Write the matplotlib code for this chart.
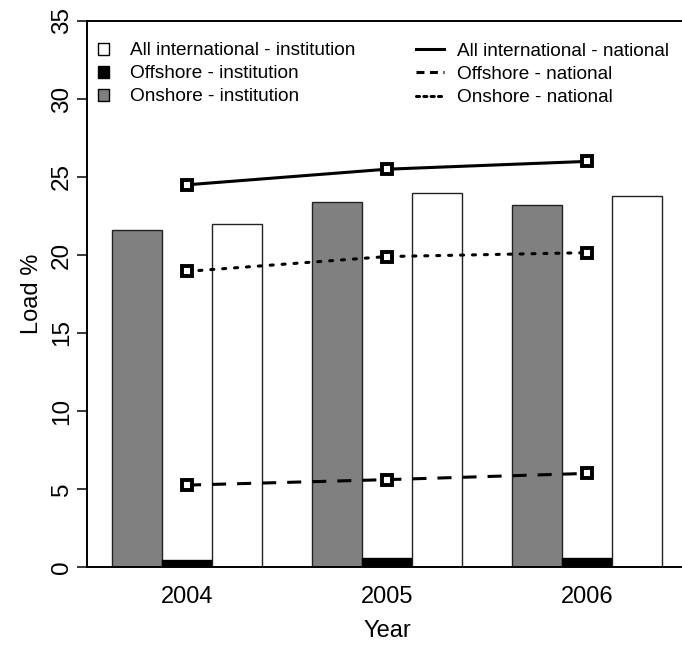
import matplotlib
matplotlib.use("Agg")
import matplotlib.pyplot as plt
from matplotlib.patches import Patch
from matplotlib.lines import Line2D
import numpy as np

plt.rcParams['font.family'] = ['Liberation Sans', 'DejaVu Sans']

years = [2004, 2005, 2006]
onshore_inst = [21.6, 23.4, 23.2]
offshore_inst = [0.45, 0.6, 0.6]
allintl_inst = [22.0, 24.0, 23.8]
allintl_nat = [24.5, 25.5, 26.0]
offshore_nat = [5.25, 5.6, 6.0]
onshore_nat = [18.95, 19.9, 20.15]

W, H = 682, 648
fig = plt.figure(figsize=(W / 100, H / 100), dpi=100)
ax = fig.add_axes([87 / W, (H - 567) / H, 600 / W, (567 - 21) / H])

x = np.array(years, dtype=float)
bw = 0.25
ax.bar(x - bw, onshore_inst, bw, color='#808080', edgecolor='#222222', linewidth=1.0, zorder=2)
ax.bar(x, offshore_inst, bw, color='black', edgecolor='black', linewidth=1.0, zorder=2)
ax.bar(x + bw, allintl_inst, bw, color='white', edgecolor='#222222', linewidth=1.0, zorder=2)

lw = 2.2
mk = dict(marker='s', ms=6.5, mfc='white', mec='black', mew=2.8)
ax.plot(x, allintl_nat, color='black', lw=lw, zorder=3, **mk)
ax.plot(x, offshore_nat, color='black', lw=lw, zorder=3, dashes=(4.6, 3.6), **mk)
ax.plot(x, onshore_nat, color='black', lw=lw, zorder=3, dashes=(1.0, 2.9),
        dash_capstyle='round', **mk)

ax.set_xlim(2003.5, 2006.5)
ax.set_ylim(0, 35)
ax.set_yticks(range(0, 36, 5))
ax.set_xticks(years)
ax.set_xticklabels([str(y) for y in years])
ax.tick_params(axis='x', length=0, pad=14, labelsize=17)
ax.tick_params(axis='y', length=7, width=1.1, pad=3, labelsize=17.5, direction='out')
for lab in ax.get_yticklabels():
    lab.set_rotation(90)
    lab.set_va('center')

for s in ['left', 'bottom', 'top']:
    ax.spines[s].set_linewidth(1.4)
ax.spines['right'].set_visible(False)

ax.set_xlabel('Year', fontsize=17, labelpad=8)
ax.set_ylabel('Load %', fontsize=17, labelpad=6)

h1 = [Patch(facecolor='white', edgecolor='black', linewidth=1.0),
      Patch(facecolor='black', edgecolor='black', linewidth=1.0),
      Patch(facecolor='#808080', edgecolor='black', linewidth=1.0)]
l1 = ['All international - institution', 'Offshore - institution', 'Onshore - institution']
h2 = [Line2D([], [], color='black', lw=lw),
      Line2D([], [], color='black', lw=lw, dashes=(2.6, 1.8)),
      Line2D([], [], color='black', lw=lw, dashes=(1.0, 1.4), dash_capstyle='round')]
l2 = ['All international - national', 'Offshore - national', 'Onshore - national']

leg1 = ax.legend(h1, l1, loc='upper left', bbox_to_anchor=(0.005, 0.975), frameon=False,
                 fontsize=13.7, handlelength=0.6, handleheight=0.6, handletextpad=1.1,
                 labelspacing=0.32, borderaxespad=0)
ax.add_artist(leg1)
ax.legend(h2, l2, loc='upper left', bbox_to_anchor=(0.535, 0.975), frameon=False,
          fontsize=13.7, handlelength=1.5, handletextpad=0.7,
          labelspacing=0.32, borderaxespad=0)

fig.savefig('out.png', dpi=100)
